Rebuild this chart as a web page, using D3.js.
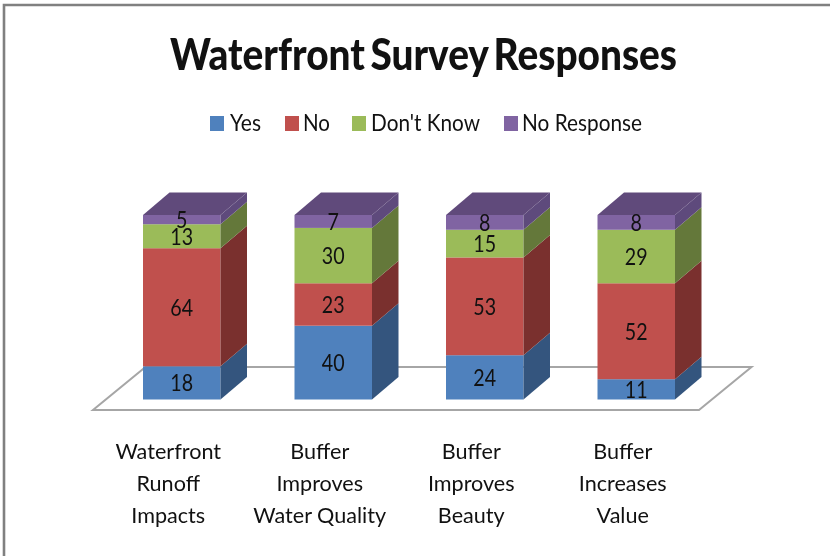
<!DOCTYPE html>
<html><head><meta charset="utf-8">
<script src="https://cdn.jsdelivr.net/npm/d3@7/dist/d3.min.js"></script>
<style>html,body{margin:0;padding:0;background:#fff;overflow:hidden}svg{display:block;filter:blur(0.45px)}text{font-family:Lato,"Open Sans",sans-serif;fill:#111}</style>
</head><body><svg id="c" width="830" height="556"></svg>
<script>
const categories = [["Waterfront","Runoff","Impacts"],["Buffer","Improves","Water Quality"],["Buffer","Improves","Beauty"],["Buffer","Increases","Value"]];
const seriesNames = ["Yes","No","Don't Know","No Response"];
const yes = [18,40,24,11];
const no = [64,23,53,52];
const dontKnow = [13,30,15,29];
const noResponse = [5,7,8,8];
const frontColors = ["#4f81bd","#c0504d","#9bbb59","#8064a2"];
const sideColors = ["#34557e","#7a302e","#64783a","#5e4a7c"];
const topColor = "#604a7b";
const title = "Waterfront Survey Responses";

const svg = d3.select("#c");
const keys = d3.range(4);
const table = categories.map((c,i)=>({i, 0:yes[i],1:no[i],2:dontKnow[i],3:noResponse[i]}));
const stack = d3.stack().keys(keys)(table);

const x = d3.scaleBand().domain(d3.range(4)).range([93,699]);
const y = d3.scaleLinear().domain([0,100]).range([399.5,215]);
const dx = 26.5, dy = 22.5, barW = 77.5, barShift = 13;
const floorFront = 410, floorBack = 367, floorDx = 52.5;

// chart border
svg.append("path").attr("d","M4,560V5H834").attr("fill","none").attr("stroke","#808080").attr("stroke-width",2.6);

// title
svg.append("text").attr("x",423.5).attr("y",70).attr("text-anchor","middle")
  .attr("font-size",43).attr("font-weight",900).attr("fill","#000").attr("word-spacing",-4)
  .attr("textLength",507).attr("lengthAdjust","spacingAndGlyphs").text(title);

// legend
const legendSwatch = [210,285,352,504], legendText = [230,303,371,522], legendWidth = [31,27,109,120];
const lg = svg.append("g").selectAll("g").data(seriesNames).join("g");
lg.append("rect").attr("x",(d,i)=>legendSwatch[i]).attr("y",116).attr("width",14).attr("height",15)
  .attr("fill",(d,i)=>frontColors[i]);
lg.append("text").attr("x",(d,i)=>legendText[i]).attr("y",131).attr("font-size",23)
  .attr("textLength",(d,i)=>legendWidth[i]).attr("lengthAdjust","spacingAndGlyphs").attr("fill","#222").text(d=>d);

// floor
const fl = x.range();
svg.append("path").attr("d",d3.line()([[fl[0],floorFront],[fl[1],floorFront],[fl[1]+floorDx,floorBack],[fl[0]+floorDx,floorBack]])+"Z")
  .attr("fill","#fff").attr("stroke","#a6a6a6").attr("stroke-width",2);

// bars
const bx = i => x(i)+x.bandwidth()/2+barShift-barW/2;
const groups = svg.append("g").selectAll("g").data(stack).join("g");
groups.each(function(s,k){
  const g = d3.select(this);
  g.selectAll(".f").data(s).join("rect").attr("class","f")
    .attr("x",(d,i)=>bx(i)).attr("width",barW).attr("y",d=>y(d[1])).attr("height",d=>y(d[0])-y(d[1]))
    .attr("fill",frontColors[k]);
  g.selectAll(".s").data(s).join("path").attr("class","s")
    .attr("d",(d,i)=>{const r=bx(i)+barW;return d3.line()([[r,y(d[0])],[r+dx,y(d[0])-dy],[r+dx,y(d[1])-dy],[r,y(d[1])]])+"Z";})
    .attr("fill",sideColors[k]);
  if(k===3) g.selectAll(".t").data(s).join("path").attr("class","t")
    .attr("d",(d,i)=>{const l=bx(i),t=y(d[1]);return d3.line()([[l,t],[l+barW,t],[l+barW+dx,t-dy],[l+dx,t-dy]])+"Z";})
    .attr("fill",topColor);
});
// value labels
groups.each(function(s){
  d3.select(this).selectAll(".v").data(s).join("text").attr("class","v")
    .attr("x",(d,i)=>bx(i)+barW/2).attr("y",d=>(y(d[0])+y(d[1]))/2+8.5)
    .attr("text-anchor","middle").attr("font-size",23)
    .attr("textLength",d=>String(d[1]-d[0]).length*11.4).attr("lengthAdjust","spacingAndGlyphs")
    .text(d=>d[1]-d[0]);
});

// category labels
const lineY = [458.5,490.5,522.5];
const cg = svg.append("g").selectAll("g").data(categories).join("g");
cg.selectAll("text").data((c,i)=>c.map((t,j)=>({t,j,i}))).join("text")
  .attr("x",d=>x(d.i)+x.bandwidth()/2-0.5).attr("y",d=>lineY[d.j])
  .attr("text-anchor","middle").attr("font-size",21.6).attr("fill","#222").text(d=>d.t);
</script></body></html>
